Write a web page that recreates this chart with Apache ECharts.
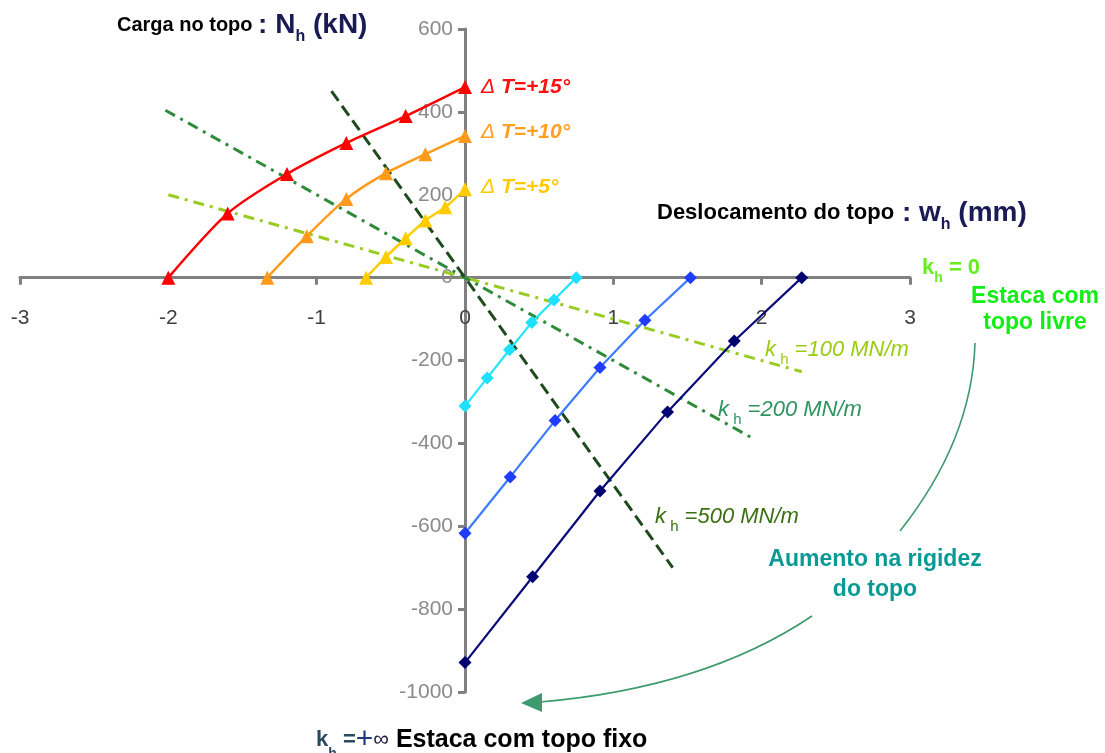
<!DOCTYPE html>
<html><head><meta charset="utf-8">
<script src="https://cdn.jsdelivr.net/npm/echarts@6/dist/echarts.min.js"></script>
<style>html,body{margin:0;padding:0;background:#fff}#c{width:1105px;height:753px}</style>
</head><body><div id="c"></div>
<script>
// Temperature curves (ΔT) — displacement (mm) vs load (kN)
const t15X = [-2, -1.6, -1.2, -0.8, -0.4, 0];
const t15Y = [0, 155, 250, 325, 390, 460];
const t10X = [-1.333, -1.067, -0.8, -0.533, -0.267, 0];
const t10Y = [0, 100, 190, 252, 298, 342];
const t5X = [-0.667, -0.533, -0.4, -0.267, -0.133, 0];
const t5Y = [0, 50, 95, 138, 170, 213];
// Contraction curves (diamonds)
const cyanX = [0, 0.15, 0.3, 0.45, 0.6, 0.75];
const cyanY = [-310, -242, -174, -108, -54, 0];
const blueX = [0, 0.305, 0.607, 0.91, 1.213, 1.52];
const blueY = [-617, -481, -345, -217, -103, 0];
const navyX = [0, 0.456, 0.91, 1.365, 1.815, 2.27];
const navyY = [-929, -722, -515, -324, -153, 0];
// Stiffness lines
const kh100X = [-2, 2.27];   const kh100Y = [200, -227];
const kh200X = [-2.02, 1.94]; const kh200Y = [404, -388];
const kh500X = [-0.9, 1.4];  const kh500Y = [450, -700];
// Axis ticks
const xTicks = [-3, -2, -1, 0, 1, 2, 3];
const yTicks = [-1000, -800, -600, -400, -200, 0, 200, 400, 600];

const zip = (xs, ys) => xs.map((x, i) => [x, ys[i]]);

const chart = echarts.init(document.getElementById('c'), null, {renderer: 'canvas'});
const FONT = 'Liberation Sans, Arial, sans-serif';

// grid geometry
const G = {left: 20, right: 195, top: 29, bottom: 61};
const W = 1105 - G.left - G.right, H = 753 - G.top - G.bottom;
const xMin = xTicks[0], xMax = xTicks[xTicks.length - 1];
const yMin = yTicks[0], yMax = yTicks[yTicks.length - 1];
const xAxisOffset = -H * (0 - yMin) / (yMax - yMin);   // move x axis up to y=0
const yAxisOffset = -W * (0 - xMin) / (xMax - xMin);   // move y axis right to x=0

function tri(name, xs, ys, color) {
  return {name, type: 'line', data: zip(xs, ys), smooth: 0.25, symbol: 'triangle', symbolSize: 14,
    lineStyle: {color, width: 2.5}, itemStyle: {color}, z: 5};
}
function dia(name, xs, ys, color, mcolor) {
  return {name, type: 'line', data: zip(xs, ys), symbol: 'diamond', symbolSize: 13,
    lineStyle: {color, width: 2.2}, itemStyle: {color: mcolor}, z: 5};
}
function kline(name, xs, ys, color, dash) {
  return {name, type: 'line', data: zip(xs, ys), symbol: 'none',
    lineStyle: {color, width: 3, type: dash}, z: 3};
}

const sub = (c, size, bold) => ({fontSize: size, fill: c, fontFamily: FONT, fontWeight: bold ? 'bold' : 'normal',
  verticalAlign: 'bottom', padding: [0, 0, -6, 0]});
const dT = (label, color, y) => ({type: 'text', x: 481, y, style: {
  text: '{d|Δ}{t| T=+' + label + '°}', verticalAlign: 'middle',
  rich: {d: {fontSize: 21, fill: color, fontStyle: 'italic', fontFamily: FONT},
         t: {fontSize: 21, fill: color, fontStyle: 'italic', fontWeight: 'bold', fontFamily: FONT}}}});

chart.setOption({
  animation: false,
  backgroundColor: '#fff',
  grid: {left: G.left, right: G.right, top: G.top, bottom: G.bottom, containLabel: false, outerBoundsMode: 'none'},
  xAxis: {
    type: 'value', min: xMin, max: xMax, interval: 1, position: 'bottom', offset: xAxisOffset,
    axisLine: {onZero: false, lineStyle: {color: '#808080', width: 3}},
    axisTick: {show: true, length: 7, lineStyle: {color: '#808080', width: 3}},
    axisLabel: {margin: 30, color: '#404040', fontSize: 21, fontFamily: FONT},
    splitLine: {show: false}
  },
  yAxis: {
    type: 'value', min: yMin, max: yMax, interval: 200, position: 'left', offset: yAxisOffset,
    axisLine: {onZero: false, lineStyle: {color: '#808080', width: 3}},
    axisTick: {show: true, length: 7, lineStyle: {color: '#808080', width: 3}},
    axisLabel: {margin: 12, color: '#8a8a8a', fontSize: 21, fontFamily: FONT, formatter: v => String(v)},
    splitLine: {show: false}
  },
  series: [
    kline('kh100', kh100X, kh100Y, '#99cc22', [11, 6, 3, 6]),
    kline('kh200', kh200X, kh200Y, '#2e8b3a', [11, 6, 3, 6]),
    kline('kh500', kh500X, kh500Y, '#1e4a1e', [12, 6]),
    tri('ΔT=+15°', t15X, t15Y, '#ff0000'),
    tri('ΔT=+10°', t10X, t10Y, '#ff9a1a'),
    tri('ΔT=+5°', t5X, t5Y, '#ffcc00'),
    dia('c1', cyanX, cyanY, '#22e5ff', '#1ee0ff'),
    dia('c2', blueX, blueY, '#3d7bff', '#1f3cff'),
    dia('c3', navyX, navyY, '#0a0a7a', '#000070')
  ],
  graphic: [
    {type: 'text', x: 117, y: 25, style: {
      text: '{a|Carga no topo }{b|: N}{s|h}{b| (kN)}', verticalAlign: 'middle',
      rich: {a: {fontSize: 20, fontWeight: 'bold', fill: '#000', fontFamily: FONT},
             b: {fontSize: 28, fontWeight: 'bold', fill: '#1a1a55', fontFamily: FONT},
             s: sub('#1a1a55', 16, true)}}},
    {type: 'text', x: 657, y: 213, style: {
      text: '{a|Deslocamento do topo}{b| : w}{s|h}{b| (mm)}', verticalAlign: 'middle',
      rich: {a: {fontSize: 22, fontWeight: 'bold', fill: '#000', fontFamily: FONT},
             b: {fontSize: 28, fontWeight: 'bold', fill: '#1a1a55', fontFamily: FONT},
             s: sub('#1a1a55', 16, true)}}},
    dT('15', '#ff1010', 87),
    dT('10', '#ffa020', 132),
    dT('5', '#ffcc00', 187),
    {type: 'text', x: 922, y: 268, style: {
      text: '{b|k}{s|h}{b| = 0}', verticalAlign: 'middle',
      rich: {b: {fontSize: 22, fill: '#66ee22', fontFamily: FONT, fontWeight: 'bold'}, s: sub('#66ee22', 14, true)}}},
    {type: 'text', x: 1035, y: 310, style: {text: 'Estaca com\ntopo livre', fill: '#11ee11', fontSize: 23, fontWeight: 'bold',
      fontFamily: FONT, align: 'center', verticalAlign: 'middle', lineHeight: 26}},
    {type: 'text', x: 765, y: 350, style: {
      text: '{b|k}{s| h}{b| =100 MN/m}', verticalAlign: 'middle',
      rich: {b: {fontSize: 22, fill: '#99cc11', fontStyle: 'italic', fontFamily: FONT}, s: sub('#99cc11', 15)}}},
    {type: 'text', x: 718, y: 410, style: {
      text: '{b|k}{s| h}{b| =200 MN/m}', verticalAlign: 'middle',
      rich: {b: {fontSize: 22, fill: '#2e9460', fontStyle: 'italic', fontFamily: FONT}, s: sub('#2e9460', 15)}}},
    {type: 'text', x: 655, y: 517, style: {
      text: '{b|k}{s| h}{b| =500 MN/m}', verticalAlign: 'middle',
      rich: {b: {fontSize: 22, fill: '#3a7010', fontStyle: 'italic', fontFamily: FONT}, s: sub('#3a7010', 15)}}},
    {type: 'text', x: 875, y: 575, style: {text: 'Aumento na rigidez\ndo topo', fill: '#0a9a96', fontSize: 23, fontWeight: 'bold',
      fontFamily: FONT, align: 'center', verticalAlign: 'middle', lineHeight: 30}},
    {type: 'text', x: 316, y: 740, style: {
      text: '{c|k}{s|h}{c| =}{p|+}{i|∞}{a| Estaca com topo fixo}', verticalAlign: 'middle',
      rich: {c: {fontSize: 22, fill: '#2a4a60', fontFamily: FONT, fontWeight: 'bold'},
             s: sub('#2a4a60', 14, true),
             p: {fontSize: 30, fill: '#1a3a80', fontFamily: FONT},
             i: {fontSize: 22, fill: '#1a1a40', fontFamily: FONT},
             a: {fontSize: 25, fontWeight: 'bold', fill: '#000', fontFamily: FONT}}}},
    {type: 'bezierCurve', shape: {x1: 975, y1: 343, x2: 900, y2: 531, cpx1: 972, cpy1: 440}, style: {stroke: '#3c9a6c', lineWidth: 1.6, fill: null}},
    {type: 'bezierCurve', shape: {x1: 812, y1: 616, x2: 540, y2: 702, cpx1: 705, cpy1: 688}, style: {stroke: '#3c9a6c', lineWidth: 1.6, fill: null}},
    {type: 'polygon', shape: {points: [[521, 703], [542, 693], [542, 712]]}, style: {fill: '#3c9a6c'}}
  ]
});
</script></body></html>
